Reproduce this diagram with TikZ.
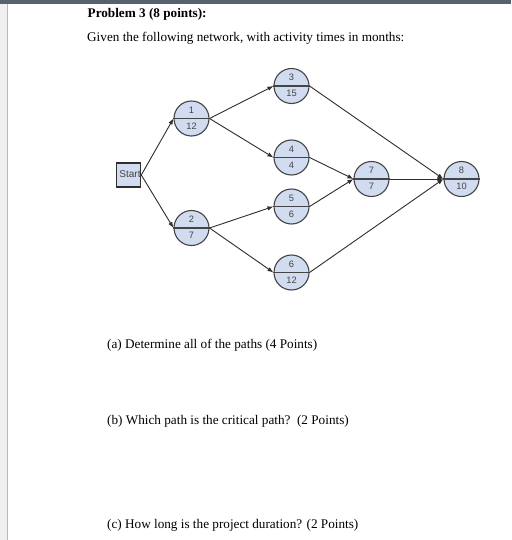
\documentclass[tikz,border=0pt]{standalone}
\usepackage{fontspec}
\setmainfont{Liberation Serif}
\newfontfamily\numfont{Liberation Sans}
\usetikzlibrary{arrows.meta}
\definecolor{barcol}{HTML}{56636F}
\definecolor{stripcol}{HTML}{F0F0F0}
\definecolor{stripline}{HTML}{B8B8B8}
\definecolor{nodefill}{HTML}{D2DCF0}
\definecolor{nodeedge}{HTML}{444444}
\definecolor{linecol}{HTML}{2E2E2E}
\definecolor{numcol}{HTML}{444444}
\tikzset{
  act/.style={circle, minimum size=35pt, inner sep=0pt, draw=nodeedge, fill=nodefill, line width=1.1pt},
  startbox/.style={rectangle, minimum size=24pt, inner sep=0pt, draw=linecol, fill=nodefill, line width=1.2pt},
  num/.style={font=\numfont\fontsize{9.3}{10}\selectfont, text=numcol, inner sep=0pt, anchor=center},
  conn/.style={draw=linecol, line width=0.9pt, -{Latex[length=6pt,width=4.5pt]}},
  divider/.style={draw=nodeedge, line width=1.1pt},
  txt/.style={anchor=base west, inner sep=0pt, font=\fontsize{13.2}{15}\selectfont},
}
\newcommand{\actnode}[4]{%
  \node[act] (#1) at (#2) {};
  \draw[divider] (#1.west) -- (#1.east);
  \node[num] (#1t) at ([yshift=8.5pt]#1.center) {#3};
  \node[num] (#1b) at ([yshift=-7.5pt]#1.center) {#4};
}
\begin{document}
\begin{tikzpicture}[x=1pt,y=-1pt]
\useasboundingbox (0,0) rectangle (511,540);
\fill[white] (0,0) rectangle (511,540);
\fill[barcol] (0,0) rectangle (511,4.5);
\fill[stripcol] (0,4.5) rectangle (6.5,540);
\fill[stripline] (6.5,4.5) rectangle (7.6,540);

\node[txt, font=\bfseries\fontsize{13.2}{15}\selectfont] (title) at (87.5,17.5) {Problem 3 (8 points):};
\node[txt] (given) at (87,42) {Given the following network, with activity times in months:};

\node[startbox] (s) at (128.7,175) {};

\actnode{n1}{191.5,118.5}{1}{12}
\actnode{n2}{191.5,228}{2}{7}
\actnode{n3}{291.5,86}{3}{15}
\actnode{n4}{291.5,157.5}{4}{4}
\actnode{n5}{291.5,206.5}{5}{6}
\actnode{n6}{291.5,272.5}{6}{12}
\actnode{n7}{371.5,179}{7}{7}
\actnode{n8}{461.5,179}{8}{10}

\draw[conn] (s.east) -- (n1.west);
\draw[conn] (s.east) -- (n2.west);
\draw[conn] (n1.east) -- (n3.west);
\draw[conn] (n1.east) -- (n4.west);
\draw[conn] (n2.east) -- (n5.west);
\draw[conn] (n2.east) -- (n6.west);
\draw[conn] (n4.east) -- (n7.west);
\draw[conn] (n5.east) -- (n7.west);
\draw[conn] (n3.east) -- (n8.west);
\draw[conn] (n7.east) -- (n8.west);
\draw[conn] (n6.east) -- (n8.west);

\node[font=\numfont\fontsize{10}{11}\selectfont, text=numcol, inner sep=0pt] (st) at (130,174.5) {Start};

\node[txt] (qa) at (107,348) {(a) Determine all of the paths (4 Points)};
\node[txt] (qb) at (107,424) {(b) Which path is the critical path?\ \ (2 Points)};
\node[txt] (qc) at (107,528) {(c) How long is the project duration? (2 Points)};
\end{tikzpicture}
\end{document}
